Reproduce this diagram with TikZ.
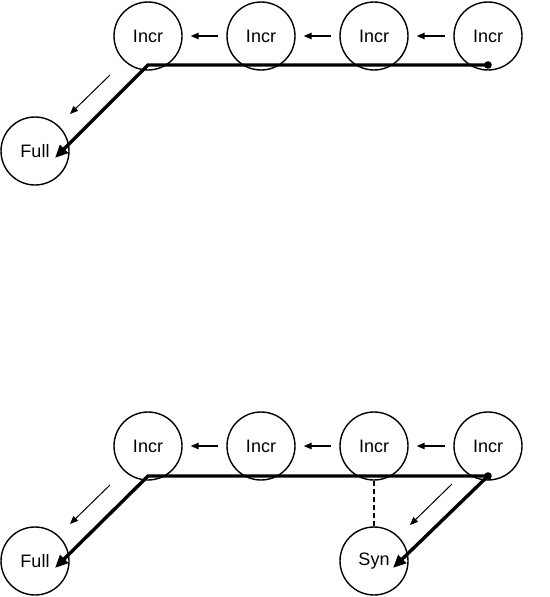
\documentclass[tikz,border=0pt]{standalone}
\usepackage{fontspec}
\setmainfont{Liberation Sans}
\usetikzlibrary{arrows.meta}
\begin{document}
\begin{tikzpicture}[x=1pt,y=-1pt,
    backup/.style={draw, circle, minimum size=68pt, inner sep=0pt, line width=1.4pt,
      font=\fontsize{18}{21}\selectfont},
    chainarrow/.style={-{Triangle[length=8pt,width=6.5pt]}, line width=1.4pt,
      shorten >=8pt, shorten <=8pt},
    restore/.style={line width=3.4pt, line join=miter, -{Triangle[length=13pt,width=11pt]}},
    hint/.style={-{Triangle[length=8pt,width=6.5pt]}, line width=1pt}]
  \useasboundingbox (0,0) rectangle (549,597);

  % Oben: Kette aus inkrementellen Sicherungen
  \node[backup] (t1) at (148,36) {Incr};
  \node[backup] (t2) at (261,36) {Incr};
  \node[backup] (t3) at (374,36) {Incr};
  \node[backup] (t4) at (488,36) {Incr};
  \node[backup] (tf) at (35,151) {Full};
  \draw[chainarrow] (t2) -- (t1);
  \draw[chainarrow] (t3) -- (t2);
  \draw[chainarrow] (t4) -- (t3);

  % Wiederherstellungsweg
  \coordinate (tstart) at (488,65);
  \coordinate (tcorner) at (148,65);
  \coordinate (tend) at (55,158);
  \fill (tstart) circle (3.8pt);
  \draw[restore] (tstart) -- (tcorner) -- (tend);
  \draw[hint] (110,75) -- (70,114);

  % Unten: mit synthetischer Vollsicherung
  \node[backup] (b1) at (148,446) {Incr};
  \node[backup] (b2) at (261,446) {Incr};
  \node[backup] (b3) at (374,446) {Incr};
  \node[backup] (b4) at (488,446) {Incr};
  \node[backup] (bf) at (35,561) {Full};
  \node[backup] (bs) at (374,561) {Syn};
  \draw[chainarrow] (b2) -- (b1);
  \draw[chainarrow] (b3) -- (b2);
  \draw[chainarrow] (b4) -- (b3);
  \draw[line width=2.4pt, dash pattern=on 5pt off 3pt] (b3.south) -- (bs.north);

  % Wiederherstellungswege
  \coordinate (bstart) at (488,476);
  \coordinate (bcorner) at (148,476);
  \coordinate (bend) at (55,568);
  \coordinate (send) at (393,568);
  \draw[restore] (bstart) -- (bcorner) -- (bend);
  \draw[restore] (bstart) -- (send);
  \fill (bstart) circle (3.8pt);
  \draw[hint] (110,485) -- (70,524);
  \draw[hint] (452,484) -- (410,525);
\end{tikzpicture}
\end{document}
